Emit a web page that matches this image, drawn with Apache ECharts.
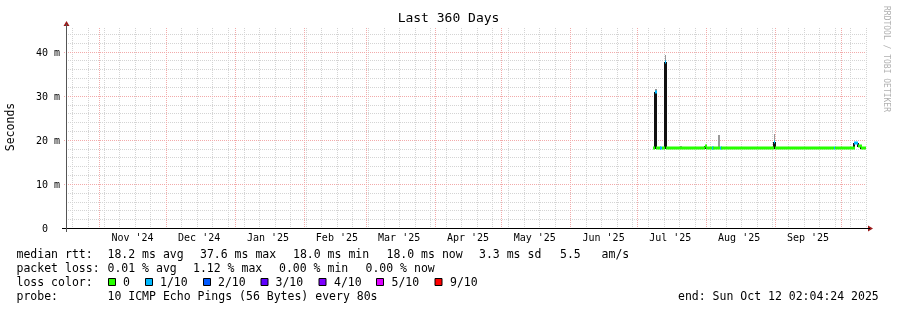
<!DOCTYPE html>
<html><head><meta charset="utf-8">
<script src="https://cdn.jsdelivr.net/npm/echarts@6/dist/echarts.min.js"></script>
<style>html,body{margin:0;padding:0;background:#fff;}#c{width:897px;height:310px;}</style>
</head><body><div id="c"></div>
<script>
// ---------------- data ----------------
const rangeStart = '2024-10-17 02:04:24';
const rangeEnd   = '2025-10-12 02:04:24';
const yMax = 45.35;
const yLabelValues = [0, 10, 20, 30, 40];
const monthStarts = ['2024-11-01','2024-12-01','2025-01-01','2025-02-01','2025-03-01','2025-04-01',
                     '2025-05-01','2025-06-01','2025-07-01','2025-08-01','2025-09-01','2025-10-01'];
const monthLabels = ["Nov '24","Dec '24","Jan '25","Feb '25","Mar '25","Apr '25",
                     "May '25","Jun '25","Jul '25","Aug '25","Sep '25"];
const firstSunday = '2024-10-20';

// median rtt (ms): value holds from each time until the next one
const medianTimes = ['2025-07-08 06:00','2025-07-09 08:00','2025-07-09 20:00','2025-07-11 20:00','2025-07-12 08:00',
  '2025-07-13 18:00','2025-07-14 06:00','2025-07-31 20:00','2025-08-01 08:00','2025-08-04 02:00','2025-08-04 14:00',
  '2025-08-07 14:00','2025-08-08 02:00','2025-08-31 20:00','2025-09-01 08:00','2025-09-27 20:00','2025-09-28 08:00',
  '2025-10-07 02:00','2025-10-08 12:00','2025-10-10 02:00','2025-10-12 02:00'];
const medianValues = [18.1,30.8,18.1,18.1,18.1,37.6,18.1,18.7,18.1,18.1,18.1,18.1,18.1,19.4,18.1,18.1,18.1,19.3,18.5,18.1,18.1];
const medianLoss   = [0,1,0,1,0,1,0,0,0,1,0,1,0,1,0,1,0,1,0,0,0];

// smoke (ping spread)
const smokeStart = ['2025-07-09 08:00','2025-07-13 18:00','2025-07-20 14:00','2025-08-06 20:00','2025-08-31 20:00'];
const smokeEnd   = ['2025-07-09 20:00','2025-07-14 06:00','2025-07-21 02:00','2025-08-07 08:00','2025-09-01 08:00'];
const smokeLow   = [30.8, 37.6, 18.1, 18.1, 19.4];
const smokeHigh  = [31.5, 39.2, 18.7, 21.1, 21.4];

const lossLabels = ['0','1/10','2/10','3/10','4/10','5/10','9/10'];
const lossColors = ['#26ff00','#00b8ff','#0059ff','#5e00ff','#7e00ff','#dd00ff','#ff0000'];

// ---------------- helpers ----------------
const MONO = '"DejaVu Sans Mono", monospace';
const DAY = 86400000;
function T(s){
  const [d, t='00:00:00'] = s.split(' ');
  const [Y,M,D] = d.split('-').map(Number);
  const [h,m,sec=0] = t.split(':').map(Number);
  return Date.UTC(Y, M-1, D, h, m, sec);
}
const T0 = T(rangeStart), T1 = T(rangeEnd);
const GL = 66, GT = 28, GW = 800, GH = 200;
const MINOR = '#d4d4d4', MAJOR = '#f2aaaa';

const weekly = [];
for (let t = T(firstSunday); t < T1; t += 7*DAY) weekly.push(t);
const vGridData = weekly.map(t => [t, 0, 0]).concat(monthStarts.map(s => [T(s), 0, 1]));
const hGridData = [];
for (let v = 2; v < yMax; v += 2) hGridData.push([T0, v, v % 10 === 0 ? 1 : 0]);

const labelMap = {};
const labelTimes = monthLabels.map((l, i) => { const t = T(monthStarts[i]) + 15*DAY; labelMap[t] = l; return t; });

const lossSegs = [];
const connectors = [];
for (let i = 0; i < medianTimes.length - 1; i++) {
  lossSegs.push([T(medianTimes[i]), T(medianTimes[i+1]), medianValues[i], medianLoss[i]]);
  if (i > 0) connectors.push([T(medianTimes[i]), Math.min(medianValues[i-1], medianValues[i]), Math.max(medianValues[i-1], medianValues[i])]);
}
const smokeData = smokeStart.map((s, i) => [T(s), T(smokeEnd[i]), smokeLow[i], smokeHigh[i]]);

// ---------------- legend graphics ----------------
const g = [];
function txt(x, y, text){ g.push({type:'text', x, y, silent:true,
  style:{text, fontFamily:MONO, fontSize:11.5, fill:'#000', align:'left', verticalAlign:'middle'}}); }
g.push({type:'text', x:448.5, y:19, style:{text:'Last 360 Days', fontFamily:MONO, fontSize:13, fill:'#000', align:'center', verticalAlign:'middle'}});
g.push({type:'text', x:11, y:127, rotation:Math.PI/2, style:{text:'Seconds', fontFamily:MONO, fontSize:11.5, fill:'#000', align:'center', verticalAlign:'middle'}});
g.push({type:'text', x:886, y:59, rotation:-Math.PI/2, style:{text:'RRDTOOL / TOBI OETIKER', fontFamily:MONO, fontSize:8, fill:'#b0b0b0', align:'center', verticalAlign:'middle'}});
// axes (decoration)
g.push({type:'line', silent:true, z:100, shape:{x1:GL-4, y1:GT+GH+0.5, x2:GL+GW+4, y2:GT+GH+0.5}, style:{stroke:'#000', lineWidth:1}});
g.push({type:'line', silent:true, z:100, shape:{x1:GL+0.5, y1:GT+GH+4, x2:GL+0.5, y2:GT-4}, style:{stroke:'#555', lineWidth:1}});
g.push({type:'polygon', silent:true, shape:{points:[[GL-2.5,GT-2],[GL+3.5,GT-2],[GL+0.5,GT-7]]}, style:{fill:'#9a1a1a'}});
g.push({type:'polygon', silent:true, shape:{points:[[GL+GW+2,GT+GH-2.5],[GL+GW+2,GT+GH+3.5],[GL+GW+7,GT+GH+0.5]]}, style:{fill:'#9a1a1a'}});

const r1 = 255.5, r2 = 269.5, r3 = 283.5, r4 = 297.5;
txt(16.5, r1, 'median rtt:'); txt(107.5, r1, '18.2 ms avg'); txt(200, r1, '37.6 ms max');
txt(293, r1, '18.0 ms min'); txt(386.5, r1, '18.0 ms now'); txt(479, r1, '3.3 ms sd'); txt(560, r1, '5.5   am/s');
txt(16.5, r2, 'packet loss:'); txt(107.5, r2, '0.01 % avg'); txt(193, r2, '1.12 % max');
txt(279, r2, '0.00 % min'); txt(365.5, r2, '0.00 % now');
txt(16.5, r3, 'loss color:');
const boxX = [108.5, 145.5, 203.5, 261, 319, 376.5, 435];
const lblX = [123, 160, 218, 275.5, 334, 391.5, 450];
lossLabels.forEach((l, i) => {
  g.push({type:'rect', silent:true, shape:{x:boxX[i], y:r3-5, width:7, height:7}, style:{fill:lossColors[i], stroke:'#000', lineWidth:1}});
  txt(lblX[i], r3, l);
});
txt(16.5, r4, 'probe:'); txt(107.5, r4, '10 ICMP Echo Pings (56 Bytes) every 80s');
txt(678, r4, 'end: Sun Oct 12 02:04:24 2025');

// ---------------- chart ----------------
const snapX = x => Math.floor(x);
const chart = echarts.init(document.getElementById('c'), null, {renderer:'canvas'});
chart.setOption({
  animation:false,
  backgroundColor:'#fff',
  grid:{left:GL, top:GT, width:GW, height:GH, containLabel:false, outerBoundsMode:'none'},
  xAxis:{type:'value', min:T0, max:T1, position:'bottom',
    axisLine:{show:false}, axisTick:{show:false}, splitLine:{show:false},
    axisLabel:{customValues:labelTimes, formatter:v => labelMap[v] || '', fontFamily:MONO, fontSize:10, color:'#000', margin:5}},
  yAxis:{type:'value', min:0, max:yMax, interval:10,
    axisLine:{show:false}, axisTick:{show:false}, splitLine:{show:false},
    axisLabel:{customValues:yLabelValues, formatter:v => '{a|' + (v === 0 ? '0  ' : (v + ' m')) + '}', margin:6,
      rich:{a:{fontFamily:MONO, fontSize:10, color:'#000', padding:[3,0,0,0]}}}},
  graphic:g,
  series:[
    {type:'custom', name:'vgrid', silent:true, z:1, data:vGridData,
      renderItem:(p, api) => {
        const x = Math.round(api.coord([api.value(0), 0])[0]) + 0.5;
        const major = api.value(2) === 1;
        return {type:'line', shape:{x1:x, y1:p.coordSys.y, x2:x, y2:p.coordSys.y + p.coordSys.height},
          style:{stroke: major ? MAJOR : MINOR, lineWidth:1, lineDash:[1,1]}, z2: major ? 2 : 1};
      }},
    {type:'custom', name:'hgrid', silent:true, z:1, data:hGridData,
      renderItem:(p, api) => {
        const y = Math.round(api.coord([api.value(0), api.value(1)])[1]) + 0.5;
        const major = api.value(2) === 1;
        return {type:'line', shape:{x1:p.coordSys.x - (major ? 2 : 0), y1:y, x2:p.coordSys.x + p.coordSys.width, y2:y},
          style:{stroke: major ? MAJOR : MINOR, lineWidth:1, lineDash:[1,1]}, z2: major ? 2 : 1};
      }},
    {type:'custom', name:'smoke', silent:true, z:2, data:smokeData, encode:{x:[0,1], y:[2,3]},
      renderItem:(p, api) => {
        const a = api.coord([api.value(0), api.value(3)]);
        const b = api.coord([api.value(1), api.value(2)]);
        const x = snapX(a[0]);
        return {type:'rect', shape:{x, y:Math.round(a[1]), width:Math.max(Math.round(b[0]) - x, 1), height:Math.round(b[1]) - Math.round(a[1])}, style:{fill:'#9a9a9a'}};
      }},
    {type:'custom', name:'median-connect', silent:true, z:3, data:connectors, encode:{x:0, y:[1,2]},
      renderItem:(p, api) => {
        const a = api.coord([api.value(0), api.value(2)]);
        const b = api.coord([api.value(0), api.value(1)]);
        const x = snapX(a[0]);
        return {type:'rect', shape:{x:x - 1, y:Math.round(a[1]), width:2, height:Math.round(b[1]) - Math.round(a[1]) + 1}, style:{fill:'#111'}};
      }},
    {type:'custom', name:'loss', silent:true, z:4, data:lossSegs, encode:{x:[0,1], y:2},
      renderItem:(p, api) => {
        const a = api.coord([api.value(0), api.value(2)]);
        const b = api.coord([api.value(1), api.value(2)]);
        const x = snapX(a[0]);
        const w = Math.max(Math.round(b[0]) - x, 1);
        return {type:'rect', shape:{x, y:Math.round(a[1]) - 1.5, width:w, height:3}, style:{fill:lossColors[api.value(3)]}};
      }}
  ]
});
</script></body></html>
